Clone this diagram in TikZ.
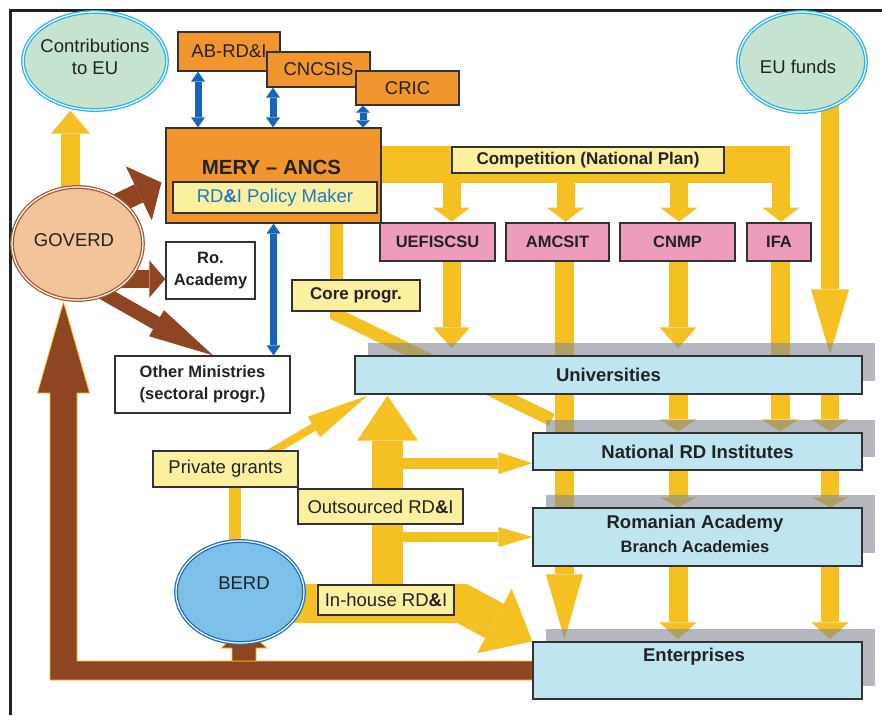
\documentclass[tikz,border=0pt]{standalone}
\usepackage{fontspec}
\setmainfont{Liberation Sans}
\usetikzlibrary{arrows.meta,shapes.geometric}
\definecolor{yel}{RGB}{245,192,34}
\definecolor{brn}{RGB}{143,68,34}
\definecolor{org}{RGB}{240,150,45}
\definecolor{pnk}{RGB}{238,156,190}
\definecolor{lyel}{RGB}{250,240,160}
\definecolor{lblue}{RGB}{191,229,240}
\definecolor{shd}{RGB}{130,137,147}
\definecolor{grn}{RGB}{196,228,207}
\definecolor{cyn}{RGB}{40,180,228}
\definecolor{peach}{RGB}{243,196,153}
\definecolor{brd}{RGB}{166,90,50}
\definecolor{berdc}{RGB}{124,192,234}
\definecolor{berdb}{RGB}{28,112,192}
\definecolor{dblue}{RGB}{22,100,190}
\definecolor{txtblue}{RGB}{30,120,200}
\definecolor{ink}{RGB}{34,34,34}
\definecolor{edge}{RGB}{50,50,50}
\pgfdeclarelayer{ylayer}
\pgfdeclarelayer{slayer}
\tikzset{
  box/.style={rectangle, draw=edge, line width=1.3pt, inner sep=0pt, text=ink},
  orgbox/.style={box, fill=org, font=\fontsize{18.5}{22}\selectfont},
  pinkbox/.style={box, fill=pnk, line width=2.6pt, font=\bfseries\fontsize{16.5}{20}\selectfont},
  lab/.style={box, fill=lyel, font=\fontsize{18.5}{22}\selectfont},
  blab/.style={box, fill=lyel, font=\bfseries\fontsize{17}{20}\selectfont},
  wbox/.style={box, fill=white, font=\bfseries\fontsize{16.5}{22}\selectfont, align=center},
  bluebox/.style={box, fill=lblue, font=\bfseries\fontsize{18.5}{22}\selectfont},
  btext/.style={inner sep=0pt, text=ink, font=\bfseries\fontsize{18.5}{22}\selectfont},
  shadowbox/.style={rectangle, inner sep=0pt, fill=shd, fill opacity=0.6, draw=none},
  ell/.style={ellipse, inner sep=0pt, line width=1.3pt, double=white, double distance=1.2pt},
  etext/.style={inner sep=0pt, text=ink, align=center, font=\fontsize{18.5}{22}\selectfont},
  yarrow/.style n args={3}{draw=yel, line width=#1, -{Triangle[width=#2, length=#3, line width=0pt]}},
  barrow/.style n args={3}{draw=brn, line width=#1, -{Triangle[width=#2, length=#3, line width=0pt]}},
  bluearr/.style n args={3}{draw=dblue, line width=#1, {Triangle[width=#2, length=#3, line width=0pt]}-{Triangle[width=#2, length=#3, line width=0pt]}},
  brownshape/.style={fill=brn, draw=yel, line width=0.8pt, line join=miter},
}
\begin{document}
\begin{tikzpicture}[x=1pt,y=-1pt]
\pgfsetlayers{ylayer,slayer,main}
\useasboundingbox (0,0) rectangle (882,715);
\draw[line width=3.5pt, ink] (10.5,715) -- (10.5,10.5) -- (882,10.5);

% ---------------- ellipses
\node[ell, fill=grn, draw=cyn, minimum width=144pt, minimum height=98pt] (contrib) at (95,61) {};
\node[etext] (contribtext) at (95,57) {Contributions\\to EU};
\node[ell, fill=grn, draw=cyn, minimum width=128pt, minimum height=100pt] (eu) at (802,62) {};
\node[etext] (eutext) at (798,67) {EU funds};
\node[ell, fill=peach, draw=brd, minimum width=131pt, minimum height=113pt] (gov) at (77.5,243.5) {};
\node[etext] (govtext) at (74,240) {GOVERD};
\node[ell, fill=berdc, draw=berdb, minimum width=128pt, minimum height=102pt] (berd) at (240,592) {};
\node[etext] (berdtext) at (244,583) {BERD};

% ---------------- orange boxes
\node[orgbox, minimum width=102pt, minimum height=39pt] (ab) at (229,51.5) {AB-RD\&I};
\node[orgbox, minimum width=103pt, minimum height=35pt] (cncsis) at (318.5,69.5) {CNCSIS};
\node[orgbox, minimum width=103pt, minimum height=34pt] (cric) at (407.5,88) {CRIC};
\node[box, fill=org, minimum width=215pt, minimum height=95pt] (mery) at (273.5,175.5) {};
\node[btext, font=\bfseries\fontsize{20.5}{24}\selectfont] (merytitle) at (271.5,167) {MERY – ANCS};
\node[box, fill=lyel, minimum width=204pt, minimum height=31pt, text=txtblue, font=\fontsize{18.5}{22}\selectfont] (policy) at (275,197.5) {RD\textbf{\&}I Policy Maker};

% ---------------- pink boxes
\node[pinkbox, minimum width=115pt, minimum height=38pt] (uef) at (437.5,242) {UEFISCSU};
\node[pinkbox, minimum width=103pt, minimum height=38pt] (amc) at (557.5,242) {AMCSIT};
\node[pinkbox, minimum width=115pt, minimum height=38pt] (cnmp) at (677.5,242) {CNMP};
\node[pinkbox, minimum width=64pt, minimum height=38pt] (ifa) at (779,242) {IFA};

% ---------------- labels
\node[blab, minimum width=272pt, minimum height=26pt] (comp) at (588,160) {Competition (National Plan)};
\node[blab, minimum width=128pt, minimum height=31pt] (core) at (356,295.5) {Core progr.};
\node[lab, minimum width=145pt, minimum height=36pt] (priv) at (225.5,469) {Private grants};
\node[lab, minimum width=165pt, minimum height=35pt] (outs) at (380.5,506.5) {Outsourced RD\textbf{\&}I};
\node[lab, minimum width=136pt, minimum height=30pt] (inh) at (386,600) {In-house RD\textbf{\&}I};
\node[wbox, minimum width=89pt, minimum height=57pt] (roac) at (210.5,270.5) {Ro.\\Academy};
\node[wbox, minimum width=175pt, minimum height=57pt] (omin) at (202.5,384.5) {Other Ministries\\(sectoral progr.)};

% ---------------- shadows
\begin{pgfonlayer}{slayer}
\node[shadowbox, minimum width=507pt, minimum height=38pt] (univsh) at (621.5,362) {};
\node[shadowbox, minimum width=329pt, minimum height=37pt] (nrdish) at (710.5,438.5) {};
\node[shadowbox, minimum width=329pt, minimum height=58pt] (rash) at (710.5,524) {};
\node[shadowbox, minimum width=329pt, minimum height=57pt] (entsh) at (710.5,657.5) {};
\end{pgfonlayer}

% ---------------- blue boxes
\node[bluebox, minimum width=507pt, minimum height=38pt] (univ) at (608.5,375) {Universities};
\node[bluebox, minimum width=329pt, minimum height=37pt] (nrdi) at (697.5,451.5) {National RD Institutes};
\node[bluebox, minimum width=329pt, minimum height=58pt] (ra) at (697.5,537) {};
\node[btext] (ratext1) at (695,524) {Romanian Academy};
\node[btext, font=\bfseries\fontsize{16.5}{20}\selectfont] (ratext2) at (695,546.5) {Branch Academies};
\node[bluebox, minimum width=329pt, minimum height=57pt] (ent) at (697.5,670.5) {};
\node[btext] (enttext) at (694,657) {Enterprises};

% ---------------- yellow and brown flows
\begin{pgfonlayer}{ylayer}
\fill[white] (0,0) rectangle (882,715);
\draw[yarrow={19pt}{39pt}{23pt}] ([xshift=-7pt]gov.center) -- ([xshift=-7pt]gov.center |- contrib.south);
\fill[yel] (mery.north east |- comp.north) rectangle (790,183);
\draw[yarrow={18pt}{37pt}{14pt}] ([xshift=14pt]uef.north |- comp.south) -- ([xshift=14pt]uef.north);
\draw[yarrow={18pt}{37pt}{14pt}] ([xshift=8pt]amc.north |- comp.south) -- ([xshift=8pt]amc.north);
\draw[yarrow={18pt}{37pt}{14pt}] ([xshift=1.5pt]cnmp.north |- comp.south) -- ([xshift=1.5pt]cnmp.north);
\draw[yarrow={18pt}{37pt}{14pt}] ([xshift=2pt]ifa.north |- comp.south) -- ([xshift=2pt]ifa.north);
\draw[yarrow={18pt}{37pt}{21pt}] ([xshift=14pt]uef.south) -- ++(0,86);
\draw[yarrow={19.5pt}{37pt}{65pt}] ([xshift=7pt]amc.south) -- ([xshift=7pt,yshift=2pt]amc.south |- ent.north);
\draw[yarrow={19pt}{37pt}{21pt}] ([xshift=0.5pt]cnmp.south) -- ++(0,86);
\draw[yarrow={19pt}{37pt}{12pt}] ([xshift=1pt]ifa.south) -- ([xshift=1pt,yshift=1pt]ifa.south |- nrdi.north);
\draw[yarrow={18pt}{38pt}{65pt}] ([xshift=28pt]eu.center) -- ([xshift=28pt,yshift=1pt]eu.center |- univ.north);
\draw[yarrow={19pt}{37pt}{12pt}] ([xshift=0.5pt]cnmp.south |- univ.center) -- ([xshift=0.5pt,yshift=1pt]cnmp.south |- nrdi.north);
\draw[yarrow={18pt}{37pt}{12pt}] ([xshift=28pt]eu.center |- univ.center) -- ([xshift=28pt,yshift=1pt]eu.center |- nrdi.north);
\draw[yarrow={19pt}{37pt}{10pt}] ([xshift=0.5pt]cnmp.south |- nrdi.center) -- ([xshift=0.5pt]cnmp.south |- ra.north);
\draw[yarrow={18pt}{37pt}{10pt}] ([xshift=28pt]eu.center |- nrdi.center) -- ([xshift=28pt]eu.center |- ra.north);
\draw[yarrow={19pt}{37pt}{17pt}] ([xshift=0.5pt]cnmp.south |- ra.center) -- ([xshift=0.5pt,yshift=2pt]cnmp.south |- ent.north);
\draw[yarrow={18pt}{37pt}{17pt}] ([xshift=28pt]eu.center |- ra.center) -- ([xshift=28pt,yshift=2pt]eu.center |- ent.north);
\draw[yel, line width=13pt, line join=miter] ([xshift=63pt,yshift=8pt]mery.south) -- ([xshift=63pt,yshift=-3pt]mery.south |- core.south) -- ([xshift=6pt]nrdish.north west);
\draw[yel, line width=12pt] ([xshift=-5.5pt]berd.center) -- ([xshift=-5.5pt]berd.center |- priv.center);
\draw[yarrow={8pt}{24pt}{62pt}] ([xshift=17pt]priv.center) -- ([xshift=13pt,yshift=-1pt]univ.south west);
\draw[yarrow={31pt}{61pt}{45pt}] ([xshift=1.5pt]inh.center) -- ([xshift=1.5pt,yshift=-1pt]inh.center |- univ.south);
\coordinate (tipN) at ([yshift=7.5pt]nrdi.south west);
\draw[yarrow={11pt}{22pt}{34pt}] (tipN -| inh.center) -- (tipN);
\draw[yarrow={10pt}{20pt}{34pt}] (ra.west -| inh.center) -- (ra.west);
\coordinate (bend) at (462,603.5);
\draw[yarrow={39pt}{73pt}{43pt}, line join=miter] ([yshift=-11.5pt]berd.center) -- (bend) -- (ent.north west);
\draw[barrow={20pt}{60pt}{25pt}] ([xshift=22.5pt,yshift=31.5pt]gov.center) -- ([xshift=-4pt,yshift=-7pt]mery.west);
\coordinate (tipR) at ([yshift=-8.5pt]roac.west);
\draw[barrow={18pt}{37pt}{16pt}] (tipR -| gov.center) -- (tipR);
\draw[barrow={14pt}{30pt}{65pt}] ([xshift=18pt,yshift=-45pt]gov.center) -- ([xshift=10.5pt]omin.north);
\filldraw[brownshape] (ent.west |- 0,661) -- (77,661) -- (77,393) -- (89.5,393) -- (63.5,302) -- (37.5,393) -- (50,393) -- (50,680) -- (ent.west |- 0,680) -- cycle;
\filldraw[brownshape] (232,661) -- (232,648) -- (221,648) -- (244,628) -- (267,648) -- (256,648) -- (256,661) -- cycle;
\end{pgfonlayer}

% ---------------- blue double arrows
\draw[bluearr={7pt}{14pt}{10pt}] ([xshift=-31pt]ab.south) -- ([xshift=-31pt]ab.south |- mery.north);
\draw[bluearr={7pt}{14pt}{10pt}] ([xshift=-45.5pt]cncsis.south) -- ([xshift=-45.5pt]cncsis.south |- mery.north);
\draw[bluearr={7pt}{14pt}{7pt}] ([xshift=-44.5pt]cric.south) -- ([xshift=-44.5pt]cric.south |- mery.north);
\draw[bluearr={7pt}{14pt}{10pt}] (mery.south) -- (mery.south |- omin.north);
\end{tikzpicture}
\end{document}
